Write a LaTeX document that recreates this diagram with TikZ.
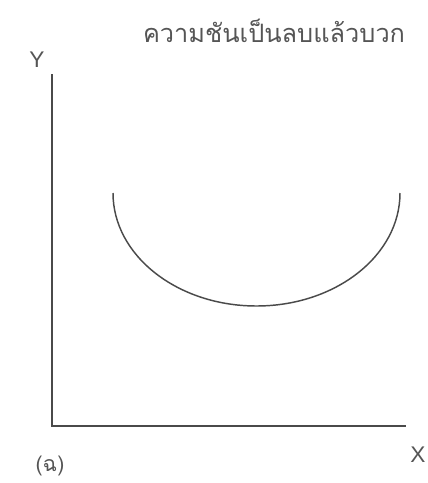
\documentclass[tikz,border=0pt]{standalone}
\usepackage{fontspec}
\newfontfamily\thaifont[Script=Thai]{Loma}
\setmainfont{Liberation Sans}
\definecolor{axisgray}{HTML}{4A4A4A}
\definecolor{textgray}{HTML}{555555}

\begin{document}
\begin{tikzpicture}[x=0.75pt, y=-0.75pt,
    axisline/.style={draw=axisgray, line width=2.2pt},
    curveline/.style={draw=axisgray, line width=1.1pt},
    axislabel/.style={text=textgray, font=\fontsize{17}{19}\selectfont, inner sep=0pt}]
  \useasboundingbox (0,0) rectangle (428,483);

  % Axes
  \coordinate (O) at (52,426);
  \coordinate (Ytop) at (52,75);
  \coordinate (Xend) at (405,426);
  \draw[axisline, line cap=rect] (Ytop) -- (O) -- (Xend);

  % Curve, slope negative then positive
  \coordinate (Cleft) at (113,193);
  \draw[curveline] (Cleft) arc[start angle=180, end angle=0, x radius=143.5, y radius=113];

  % Labels
  \node[axislabel] (ylab) at (37,60) {Y};
  \node[axislabel] (xlab) at (418,455) {X};
  \node[axislabel, font=\thaifont\fontsize{16}{18}\selectfont] (panel) at (50,466) {(ฉ)};
  \node[axislabel, font=\thaifont\fontsize{19}{21}\selectfont] (title) at (274,31) {ความชันเป็นลบแล้วบวก};

\end{tikzpicture}
\end{document}
